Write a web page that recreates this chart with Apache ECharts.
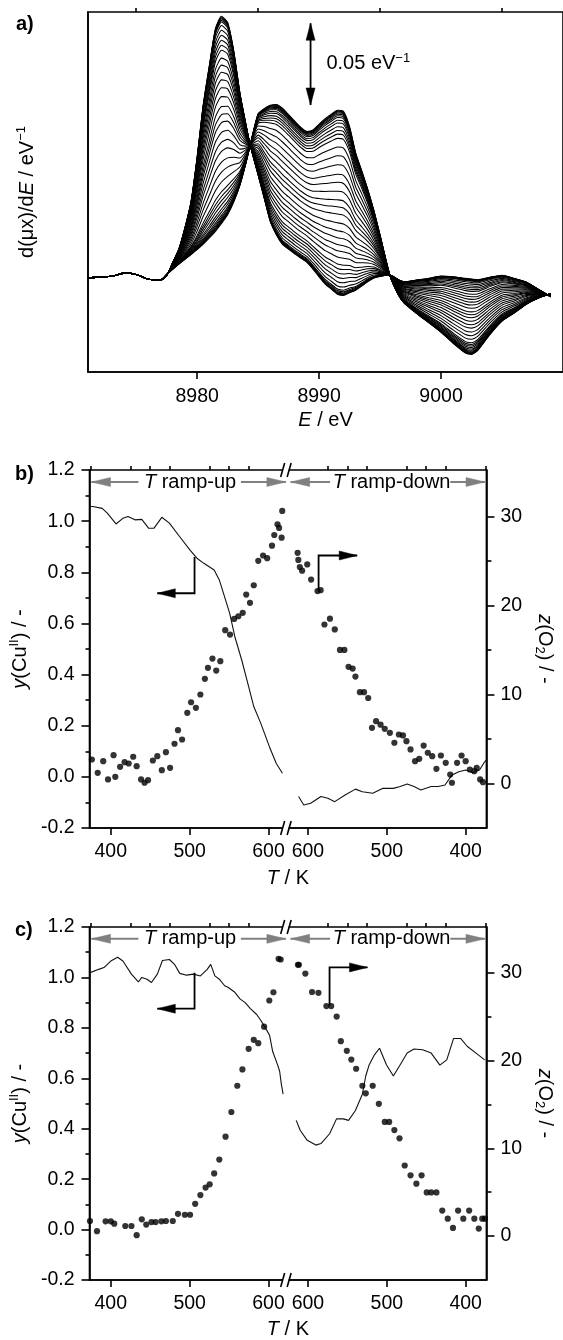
<!DOCTYPE html>
<html>
<head>
<meta charset="utf-8">
<script src="https://cdn.jsdelivr.net/npm/echarts@6/dist/echarts.min.js"></script>
<style>html,body{margin:0;padding:0;background:#fff}#chart{width:563px;height:1340px}</style>
</head>
<body>
<div id="chart"></div>
<script>
// ---------------- data ----------------
// panel a: energy grid and the two end spectra, d(mu x)/dE in 1/eV
const energy = [8971.0, 8972.0, 8973.0, 8974.0, 8975.0, 8976.0, 8977.0, 8977.5, 8978.0, 8978.5,
  8979.0, 8979.5, 8980.0, 8980.5, 8981.0, 8981.5, 8982.0, 8982.5, 8983.0, 8983.5,
  8984.0, 8984.35, 8985.0, 8985.5, 8986.0, 8986.5, 8987.0, 8987.5, 8988.0, 8988.5,
  8989.0, 8989.5, 8990.0, 8990.5, 8991.0, 8991.5, 8992.0, 8992.5, 8993.0, 8993.5,
  8994.0, 8994.5, 8995.0, 8995.8, 8996.5, 8997.0, 8998.0, 8999.0, 9000.0, 9001.0,
  9002.0, 9002.5, 9003.0, 9004.0, 9005.0, 9006.0, 9007.0, 9008.0, 9009.0];
const spectrumFirst = [0.0000, 0.0007, 0.0011, 0.0030, 0.0022, -0.0008, -0.0012, 0.0015, 0.0095, 0.0177,
  0.0308, 0.0468, 0.0740, 0.1060, 0.1300, 0.1527, 0.1602, 0.1564, 0.1390, 0.1136,
  0.0940, 0.0814, 0.0630, 0.0488, 0.0345, 0.0264, 0.0206, 0.0177, 0.0148, 0.0122,
  0.0096, 0.0054, 0.0007, -0.0037, -0.0068, -0.0099, -0.0106, -0.0090, -0.0075, -0.0049,
  -0.0022, 0.0000, 0.0010, 0.0018, -0.0010, -0.0023, -0.0012, -0.0002, 0.0012, 0.0008,
  -0.0002, -0.0006, -0.0010, 0.0005, 0.0017, -0.0002, -0.0025, -0.0070, -0.0115];
const spectrumLast = [0.0000, 0.0007, 0.0011, 0.0030, 0.0022, -0.0008, -0.0012, 0.0021, 0.0055, 0.0086,
  0.0115, 0.0144, 0.0174, 0.0207, 0.0245, 0.0286, 0.0334, 0.0387, 0.0465, 0.0565,
  0.0703, 0.0814, 0.1005, 0.1037, 0.1058, 0.1062, 0.1039, 0.1000, 0.0960, 0.0922,
  0.0897, 0.0906, 0.0942, 0.0975, 0.1002, 0.1027, 0.1020, 0.0926, 0.0766, 0.0656,
  0.0541, 0.0411, 0.0262, 0.0018, -0.0103, -0.0155, -0.0217, -0.0274, -0.0332, -0.0400,
  -0.0459, -0.0467, -0.0444, -0.0346, -0.0263, -0.0214, -0.0160, -0.0122, -0.0095];
// share of the last spectrum in each recorded spectrum (read from the peak heights at 8982 eV)
const mixFractions = [0, 0.004, 0.008, 0.013, 0.02, 0.028, 0.045, 0.068, 0.092, 0.116,
  0.14, 0.164, 0.202, 0.236, 0.27, 0.307, 0.345, 0.388, 0.436, 0.475,
  0.513, 0.56, 0.608, 0.652, 0.704, 0.752, 0.8, 0.847, 0.87, 0.89,
  0.91, 0.93, 0.945, 0.96, 0.97, 0.978, 0.985, 0.99, 0.995, 1.0];
const energyTicks = [8980, 8990, 9000];
const energyMinorTicks = [8975, 8985, 8995, 9005];
const scaleBar = {energy: 8989.3, from: 0.1059, to: 0.1559, label: 0.05};

// panels b and c: temperature tick labels and right-axis ticks
const tempTicks = [400, 500, 600];
const tempMinorTicks = [375, 425, 450, 475, 525, 550, 575];
const zTicks = [0, 10, 20, 30];
const zMinorTicks = [5, 15, 25];

// panel b  [T / K, y(CuII)] and [T / K, z(O2)]
const bLineUp = [[373.8,1.057],[377.3,1.057],[389.1,1.050],[395.6,1.031],[406.6,0.989],[415.3,1.011],[421.8,1.018],[430.6,1.005],[439.3,1.007],[448.1,0.972],[454.6,0.972],[464.7,1.015],[474.3,0.992],[487.4,0.939],[500.5,0.887],[509.2,0.855],[518.0,0.835],[531.1,0.809],[537.6,0.770],[544.2,0.705],[550.7,0.640],[557.3,0.548],[566.0,0.457],[574.8,0.353],[581.3,0.275],[590.1,0.210],[601.0,0.119],[609.7,0.053],[617.6,0.014]];
const bLineDown = [[611.9,-0.077],[605.3,-0.110],[596.6,-0.103],[583.5,-0.077],[574.7,-0.084],[566.0,-0.097],[552.9,-0.071],[539.8,-0.048],[531.0,-0.058],[517.9,-0.064],[504.8,-0.045],[491.7,-0.045],[483.0,-0.038],[474.2,-0.028],[465.5,-0.038],[456.8,-0.051],[443.7,-0.038],[434.9,-0.038],[426.2,-0.032],[417.4,0.007],[408.7,0.020],[400.0,0.027],[391.2,0.016],[382.5,0.027],[375.9,0.059],[373.7,0.066]];
const bDotsUp = [[376.0,2.69],[383.4,1.20],[390.4,2.50],[396.5,0.45],[403.5,3.18],[405.7,0.75],[411.8,1.87],[417.5,2.39],[422.7,2.24],[428.4,3.00],[432.8,1.94],[438.4,0.45],[442.8,0.08],[447.2,0.37],[453.3,2.58],[459.0,3.06],[464.7,1.49],[469.9,3.51],[475.2,1.76],[480.8,4.46],[485.2,5.98],[490.4,4.94],[497.0,7.93],[501.8,9.12],[507.9,8.50],[513.6,9.99],[519.3,11.75],[523.2,12.99],[528.9,14.03],[533.7,12.68],[538.9,13.73],[545.1,17.21],[551.2,16.72],[556.4,18.48],[561.7,18.78],[567.3,19.16],[571.7,21.21],[576.5,20.28],[581.3,22.26],[587.0,25.0],[593.1,25.6],[598.3,25.3],[604.4,26.7],[607.3,27.9],[611.4,29.1],[613.4,28.7],[616.6,27.6],[617.4,30.6]];
const bDotsDown = [[613.1,25.9],[612.2,25.1],[610.3,24.3],[607.4,23.9],[600.9,24.6],[596.0,22.9],[587.9,21.6],[583.9,21.7],[579.1,17.85],[572.1,18.5],[566.0,17.3],[559.4,15.0],[553.8,15.0],[548.5,13.1],[543.3,12.9],[539.8,12.0],[534.1,10.25],[528.9,10.25],[523.6,9.6],[518.8,6.25],[513.6,7.0],[507.9,6.6],[502.6,6.14],[496.1,5.69],[490.4,4.57],[484.7,5.5],[479.5,5.39],[475.1,4.75],[469.9,3.82],[464.2,2.5],[458.9,2.77],[453.3,4.26],[448.0,3.45],[442.4,3.06],[437.1,1.65],[431.4,3.14],[425.3,2.32],[419.6,1.0],[417.4,0.08],[410.9,2.32],[405.2,3.14],[400.0,2.5],[394.7,1.57],[389.1,1.38],[386.0,1.76],[381.6,0.45],[378.1,0.15]];

// panel c
const cLineUp = [[373.8,1.019],[384.7,1.032],[391.3,1.039],[400.0,1.065],[408.7,1.080],[415.3,1.065],[426.2,1.013],[435.0,0.982],[439.3,1.000],[445.9,0.993],[451.6,0.980],[459.0,1.013],[465.5,1.067],[474.3,1.071],[480.8,1.052],[487.4,1.016],[496.1,1.009],[504.9,1.013],[513.6,1.006],[522.3,1.032],[526.7,1.052],[532.0,1.006],[537.6,0.993],[544.4,0.967],[548.6,0.961],[557.3,0.941],[563.8,0.915],[570.4,0.900],[577.0,0.876],[585.0,0.853],[590.1,0.830],[596.6,0.797],[601.3,0.771],[605.3,0.706],[611.4,0.654],[614.1,0.628],[616.3,0.576],[618.5,0.537]];
const cLineDown = [[614.9,0.433],[609.7,0.393],[600.9,0.354],[590.0,0.335],[583.5,0.341],[572.5,0.380],[563.8,0.439],[555.1,0.439],[548.5,0.433],[539.8,0.472],[531.0,0.537],[526.7,0.609],[522.3,0.654],[515.7,0.693],[509.2,0.719],[500.5,0.654],[491.7,0.609],[483.0,0.654],[474.2,0.700],[465.5,0.716],[454.6,0.713],[443.7,0.700],[432.7,0.652],[424.0,0.673],[415.3,0.758],[406.5,0.758],[397.8,0.726],[386.9,0.700],[375.9,0.673]];
const cDotsUp = [[373.6,1.72],[382.5,0.56],[393.4,1.68],[400.0,1.68],[404.4,1.42],[418.4,1.15],[426.2,1.15],[432.8,0.11],[439.3,1.91],[445.0,1.31],[451.6,1.60],[456.8,1.60],[464.2,1.68],[469.9,1.72],[478.6,1.72],[485.2,2.54],[493.9,2.43],[500.5,2.43],[507.0,3.67],[513.6,4.67],[520.2,5.52],[525.4,5.90],[531.1,7.14],[537.6,8.71],[545.5,11.32],[552.9,14.13],[560.4,17.12],[566.9,18.98],[574.8,21.33],[581.3,22.35],[587.0,21.97],[594.4,23.85],[601.0,26.83],[606.2,27.77],[612.8,31.58],[615.4,31.50]];
const cDotsDown = [[612.7,30.9],[611.5,30.9],[603.3,29.9],[594.8,27.8],[586.7,27.7],[576.6,26.2],[570.5,26.2],[563.6,25.0],[558.3,22.2],[550.7,21.1],[545.0,20.1],[538.9,19.06],[531.0,17.12],[526.7,16.26],[517.9,17.12],[510.1,15.06],[502.6,13.0],[497.0,13.0],[490.4,12.07],[483.9,11.13],[477.3,8.04],[469.9,6.92],[462.5,5.97],[455.9,6.92],[449.4,4.97],[443.7,4.97],[437.1,4.97],[429.7,2.91],[422.7,1.98],[416.1,0.93],[409.6,2.91],[403.0,1.98],[395.6,2.91],[389.0,1.98],[383.4,0.86],[379.0,1.98],[375.5,1.98]];

// ---------------- helpers ----------------
const FONT = '"Liberation Sans", Arial, Helvetica, sans-serif';
const TURN = 625;                       // axis position where the ramp turns
const up = T => T;                      // ramp-up: T increases to the right
const down = T => 2 * TURN - T;         // ramp-down: T decreases to the right
const tempLabel = v => String(Math.round(v > TURN ? 2 * TURN - v : v));
const mapUp = arr => arr.map(p => [up(p[0]), p[1]]);
const mapDown = arr => arr.map(p => [down(p[0]), p[1]]);
const tempMajorPos = tempTicks.map(up).concat(tempTicks.map(down));
const tempMinorPos = tempMinorTicks.map(up).concat(tempMinorTicks.map(down));

const FS = 19.5;
const rich = {
  n: {fontSize: 20, fontFamily: FONT, color: '#000', fill: '#000', lineHeight: 24},
  i: {fontSize: 20, fontFamily: FONT, fontStyle: 'italic', color: '#000', fill: '#000', lineHeight: 24},
  sup: {fontSize: 13, fontFamily: FONT, color: '#000', fill: '#000', lineHeight: 13, verticalAlign: 'top'},
  sub: {fontSize: 13, fontFamily: FONT, color: '#000', fill: '#000', lineHeight: 13, verticalAlign: 'bottom'}
};
const lineCol = {color: '#000', width: 1.6};
const labelStyle = {fontSize: FS, fontFamily: FONT, color: '#000'};

function xMajor(grid, min, max, ticks, fmt, name, nameGap, margin) {
  return {gridIndex: grid, type: 'value', min, max,
    axisLine: {show: true, onZero: false, lineStyle: lineCol},
    axisTick: {show: true, length: 7, customValues: ticks, lineStyle: lineCol},
    axisLabel: Object.assign({customValues: ticks, margin, formatter: fmt}, labelStyle),
    splitLine: {show: false},
    name, nameLocation: 'middle', nameGap, nameTextStyle: {rich}};
}
function xMinor(grid, min, max, ticks) {
  return {gridIndex: grid, type: 'value', min, max,
    axisLine: {show: false, onZero: false},
    axisTick: {show: true, length: 4, customValues: ticks, lineStyle: lineCol},
    axisLabel: {show: false}, splitLine: {show: false}};
}
function yLeft(grid) {
  return {gridIndex: grid, type: 'value', min: -0.2, max: 1.2, interval: 0.2, position: 'left',
    axisLine: {show: true, onZero: false, lineStyle: lineCol},
    axisTick: {show: true, length: 8, lineStyle: lineCol},
    minorTick: {show: true, splitNumber: 2, length: 4, lineStyle: lineCol},
    axisLabel: Object.assign({margin: 15, formatter: v => v.toFixed(1)}, labelStyle),
    splitLine: {show: false},
    name: '{i|y}{n|(Cu}{sup|II}{n|) / -}', nameLocation: 'middle', nameGap: 50, nameRotate: 90,
    nameTextStyle: {rich}};
}
function yRight(grid) {
  return {gridIndex: grid, type: 'value', min: -5, max: 35.2, position: 'right',
    axisLine: {show: true, onZero: false, lineStyle: lineCol},
    axisTick: {show: true, length: 8, customValues: zTicks, lineStyle: lineCol},
    axisLabel: Object.assign({margin: 14, customValues: zTicks}, labelStyle),
    splitLine: {show: false},
    name: '{i|z}{n|(O}{sub|2}{n|) / -}', nameLocation: 'middle', nameGap: 38, nameRotate: -90,
    nameTextStyle: {rich}};
}
function yRightMinor(grid) {
  return {gridIndex: grid, type: 'value', min: -5, max: 35.2, position: 'right',
    axisLine: {show: false, onZero: false},
    axisTick: {show: true, length: 5, customValues: zMinorTicks, lineStyle: lineCol},
    axisLabel: {show: false}, splitLine: {show: false}};
}
const lineSeries = (xi, yi, data) => ({type: 'line', xAxisIndex: xi, yAxisIndex: yi, data,
  symbol: 'none', silent: true, lineStyle: {color: '#111', width: 1.1}, z: 3});
const dotSeries = (xi, yi, data) => ({type: 'scatter', xAxisIndex: xi, yAxisIndex: yi, data,
  symbol: 'circle', symbolSize: 6.2, silent: true, itemStyle: {color: '#000'}, z: 4});

const TMIN = 373, TMAX = 876.3;
const series = mixFractions.map(f => ({
  type: 'line', xAxisIndex: 0, yAxisIndex: 0, symbol: 'none', smooth: 0.2, silent: true,
  lineStyle: {color: '#000', width: 1.05}, z: 2,
  data: energy.map((e, i) => [e, (1 - f) * spectrumFirst[i] + f * spectrumLast[i]])
}));
series.push(
  lineSeries(2, 1, mapUp(bLineUp)), lineSeries(2, 1, mapDown(bLineDown)),
  dotSeries(2, 2, mapUp(bDotsUp)), dotSeries(2, 2, mapDown(bDotsDown)),
  lineSeries(4, 4, mapUp(cLineUp)), lineSeries(4, 4, mapDown(cLineDown)),
  dotSeries(4, 5, mapUp(cDotsUp)), dotSeries(4, 5, mapDown(cDotsDown))
);

const option = {
  animation: false,
  backgroundColor: '#fff',
  grid: [
    {left: 88, top: 12, width: 493, height: 360, show: true, borderColor: '#000', borderWidth: 1.6},
    {left: 89, top: 470, width: 413.7, height: 358, show: true, borderColor: '#000', borderWidth: 1.6},
    {left: 89, top: 927, width: 413.7, height: 358, show: true, borderColor: '#000', borderWidth: 1.6}
  ],
  xAxis: [
    xMajor(0, 8971.05, 9010, energyTicks, v => String(v), '{i|E}{n| / eV}', 36, 15),
    xMinor(0, 8971.05, 9010, energyMinorTicks),
    xMajor(1, TMIN, TMAX, tempMajorPos, tempLabel, '{i|T}{n| / K}', 38, 14),
    xMinor(1, TMIN, TMAX, tempMinorPos),
    xMajor(2, TMIN, TMAX, tempMajorPos, tempLabel, '{i|T}{n| / K}', 37, 14),
    xMinor(2, TMIN, TMAX, tempMinorPos)
  ],
  yAxis: [
    {gridIndex: 0, type: 'value', min: -0.0575, max: 0.1628,
      axisLine: {show: true, onZero: false, lineStyle: lineCol}, axisTick: {show: false},
      axisLabel: {show: false}, splitLine: {show: false},
      name: '{n|d(μx)/d}{i|E}{n| / eV}{sup|−1}', nameLocation: 'middle', nameGap: 49, nameRotate: 90,
      nameTextStyle: {rich}},
    yLeft(1), yRight(1), yRightMinor(1),
    yLeft(2), yRight(2), yRightMinor(2)
  ],
  series
};

const chart = echarts.init(document.getElementById('chart'), null, {renderer: 'canvas'});
chart.setOption(option);

// ---------------- annotations ----------------
const P = (xi, yi, x, y) => chart.convertToPixel({xAxisIndex: xi, yAxisIndex: yi}, [x, y]);
const g = [];
function head(tip, from, len, hw, color) {
  const dx = tip[0] - from[0], dy = tip[1] - from[1], d = Math.hypot(dx, dy);
  const ux = dx / d, uy = dy / d, bx = tip[0] - ux * len, by = tip[1] - uy * len;
  g.push({type: 'polygon', silent: true, z: 50,
    shape: {points: [tip, [bx - uy * hw, by + ux * hw], [bx + uy * hw, by - ux * hw]]},
    style: {fill: color, stroke: color, lineWidth: 0.5}});
}
function poly(points, color, w) {
  g.push({type: 'polyline', silent: true, z: 50, shape: {points},
    style: {stroke: color, lineWidth: w, fill: null}});
}
function text(x, y, str, align) {
  g.push({type: 'text', silent: true, z: 51, x, y,
    style: {text: str, rich, fontSize: 20, fontFamily: FONT, fill: '#000',
      align: align || 'center', verticalAlign: 'middle'}});
}
// panel letters
[['a)', 16, 24], ['b)', 15, 474], ['c)', 15, 930]].forEach(([t, x, y]) => g.push({
  type: 'text', silent: true, z: 51, x, y,
  style: {text: t, fontSize: 20, fontWeight: 'bold', fontFamily: FONT, fill: '#000', verticalAlign: 'middle'}}));

// scale bar in panel a
{
  const a = P(0, 0, scaleBar.energy, scaleBar.from), b = P(0, 0, scaleBar.energy, scaleBar.to);
  poly([a, b], '#000', 1.8);
  head(b, a, 17, 4.5, '#000');
  head(a, b, 17, 4.5, '#000');
  const t = P(0, 0, 8990.6, 0.131);
  text(t[0], t[1], '{n|' + scaleBar.label.toFixed(2) + ' eV}{sup|−1}', 'left');
}

// ramp arrows, L-shaped arrows and axis breaks for panels b and c
function panel(xi, yl, yr, Lleft, Lright) {
  const yA = 1.153, grey = '#808080';
  const arr = (v0, v1) => { const p0 = P(xi, yl, v0, yA), p1 = P(xi, yl, v1, yA); poly([p0, p1], grey, 2); head(p1, p0, 19, 4.5, grey); };
  arr(435, 375.5); arr(565, 622); arr(678, 628); arr(830.5, 874.5);
  let t = P(xi, yl, 500.5, yA); text(t[0], t[1], '{i|T}{n| ramp-up}');
  t = P(xi, yl, 756, yA); text(t[0], t[1], '{i|T}{n| ramp-down}');
  // L arrows
  const l = Lleft.map(p => P(xi, yl, p[0], p[1]));
  poly(l, '#000', 1.8); head(l[2], l[1], 18, 4.5, '#000');
  const r = Lright.map(p => P(xi, yr, p[0], p[1]));
  poly(r, '#000', 1.8); head(r[2], r[1], 18, 4.5, '#000');
  // axis break marks
  [1.2, -0.2].forEach(v => {
    const p = P(xi, yl, 623, v);
    g.push({type: 'rect', silent: true, z: 52, shape: {x: p[0] - 4, y: p[1] - 2, width: 6, height: 4}, style: {fill: '#fff'}});
    poly([[p[0] - 6, p[1] + 7], [p[0] - 2, p[1] - 7]], '#000', 1.6);
    poly([[p[0] + 0.5, p[1] + 7], [p[0] + 4.5, p[1] - 7]], '#000', 1.6);
    g[g.length - 1].z = 53; g[g.length - 2].z = 53;
  });
}
panel(2, 1, 2, [[506.2, 0.86], [506.2, 0.718], [459, 0.718]], [[663.5, 21.8], [663.5, 25.6], [712.4, 25.6]]);
panel(4, 4, 5, [[506.2, 1.019], [506.2, 0.876], [459, 0.876]], [[677.4, 26.3], [677.4, 30.6], [725.5, 30.6]]);

chart.setOption({graphic: g});
</script>
</body>
</html>
